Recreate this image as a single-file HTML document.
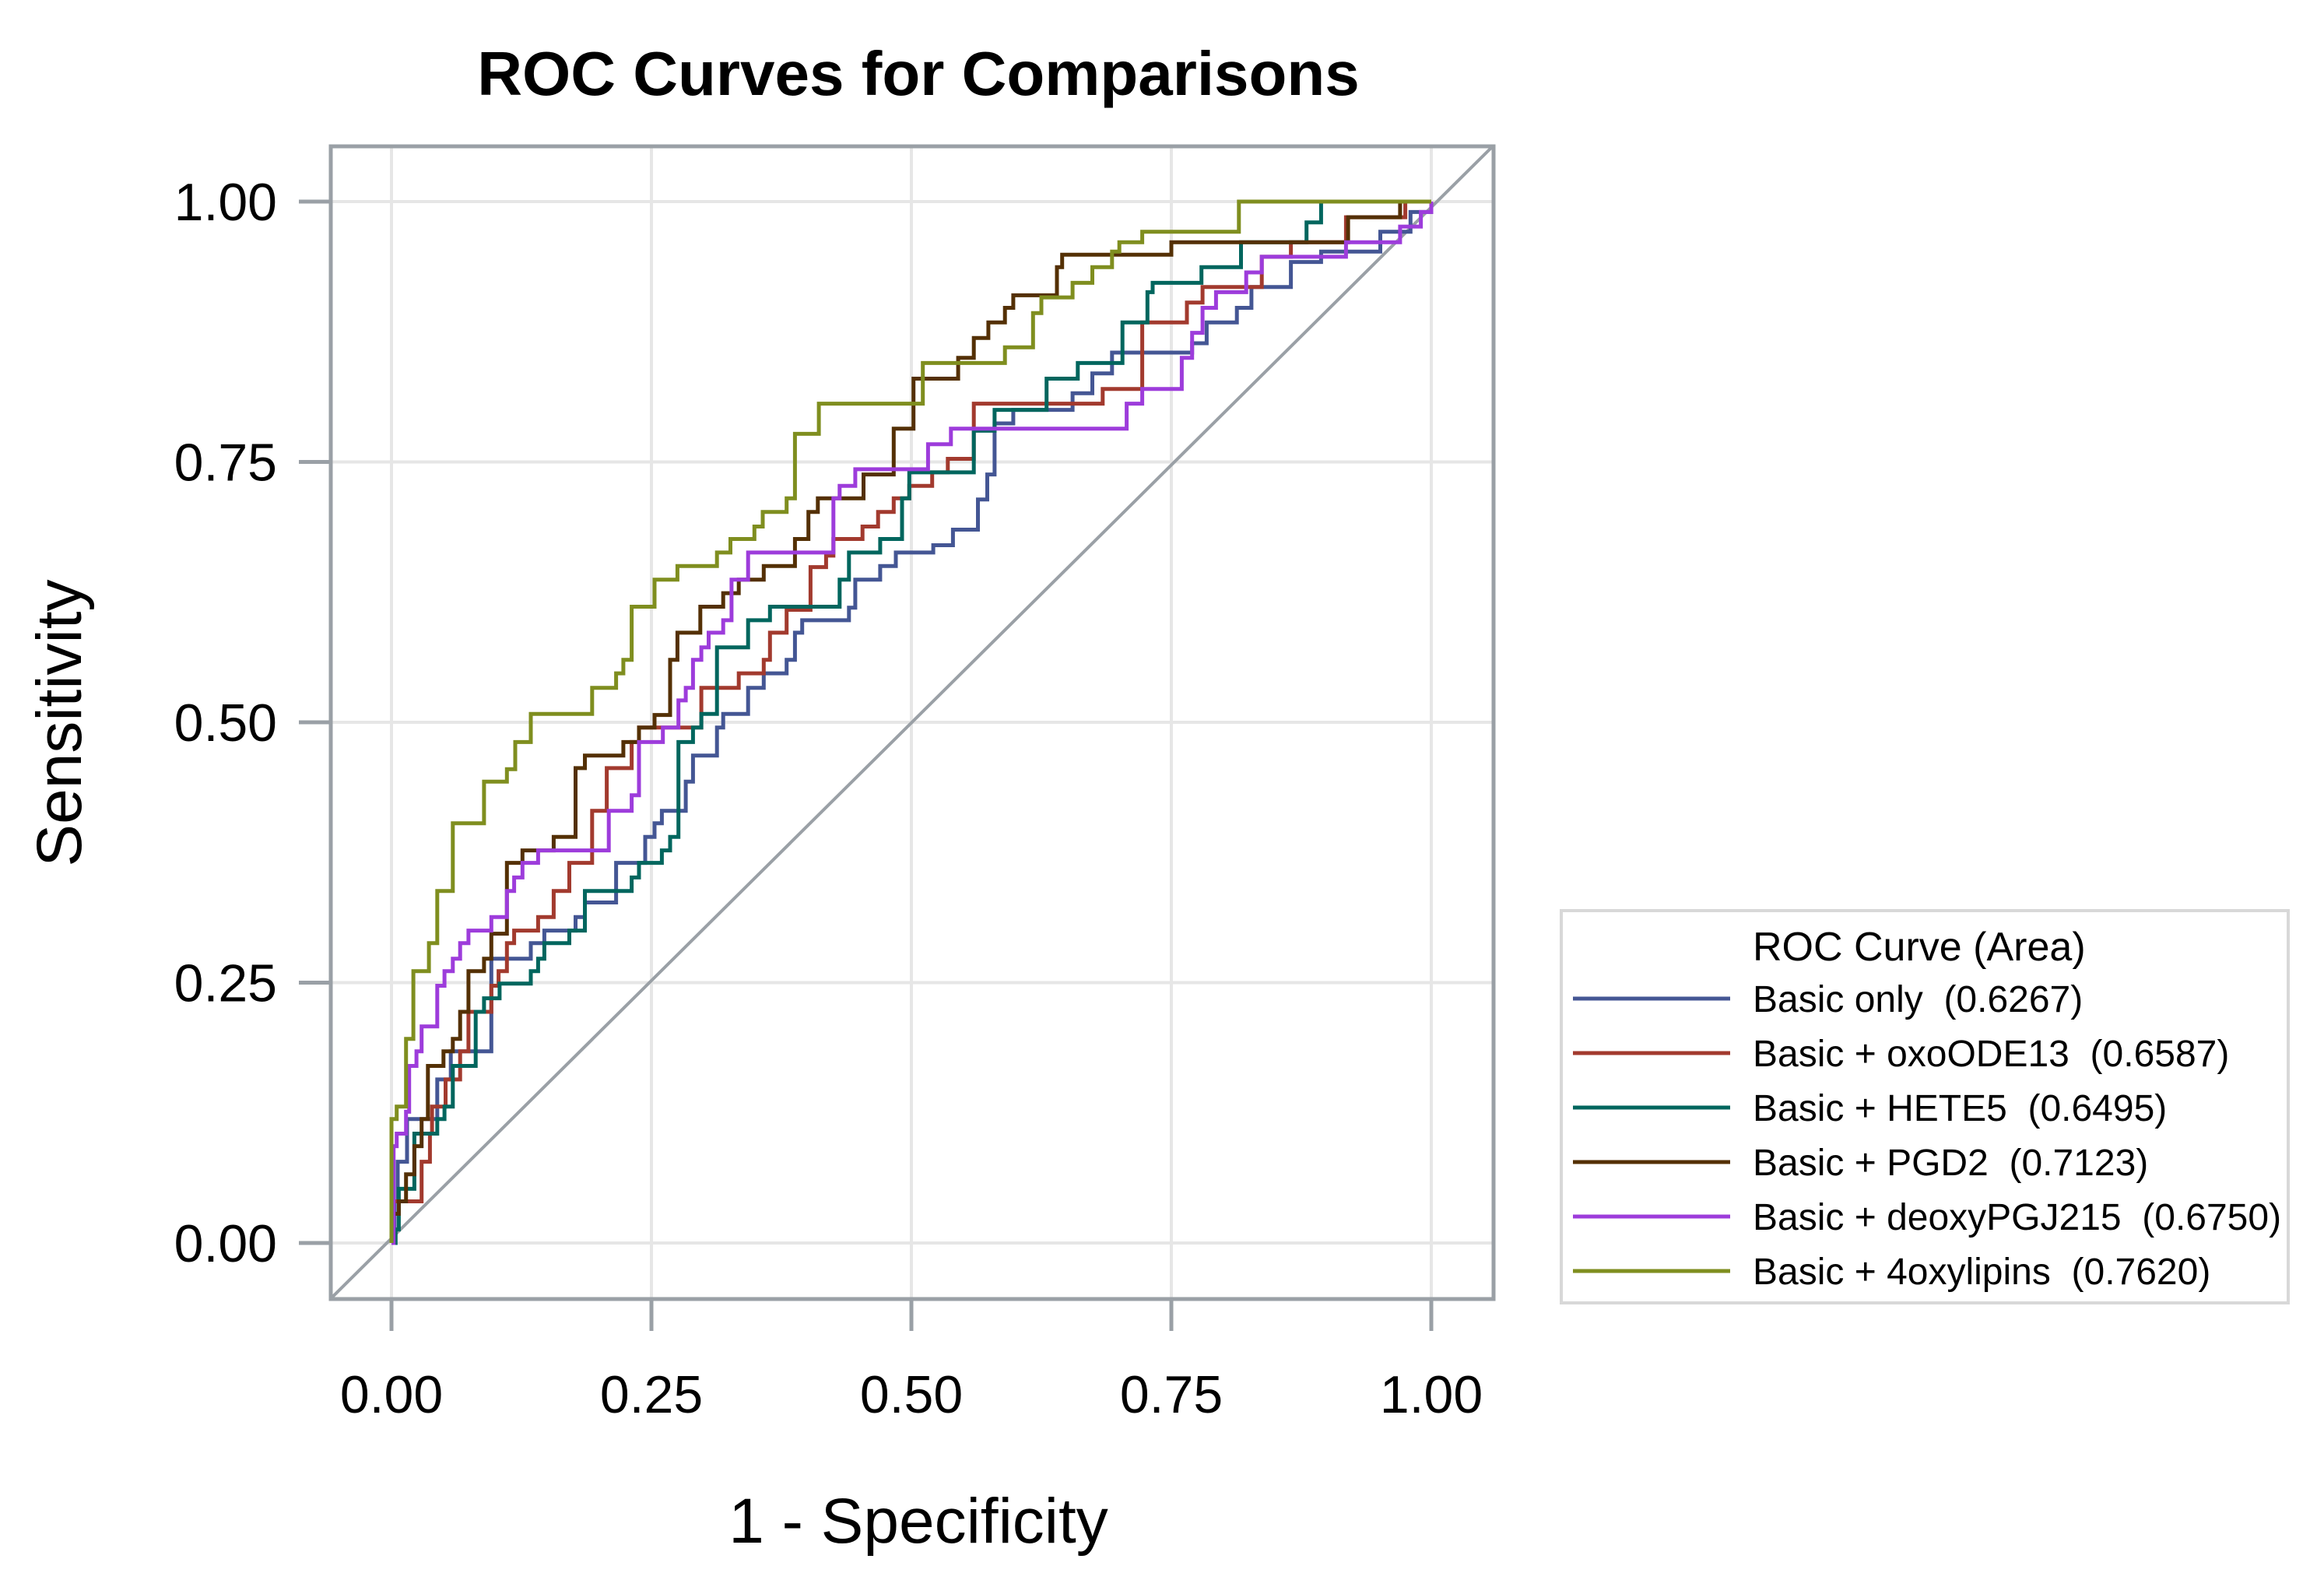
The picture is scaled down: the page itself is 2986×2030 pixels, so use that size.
<!DOCTYPE html>
<html><head><meta charset="utf-8"><style>
html,body{margin:0;padding:0;background:#fff;}
svg{display:block;font-family:"Liberation Sans",sans-serif;}
.pre{white-space:pre;}
</style></head><body>
<svg id="chart" width="2986" height="2030" viewBox="0 0 2986 2030" xmlns="http://www.w3.org/2000/svg">
<rect x="0" y="0" width="2986" height="2030" fill="#fff"/>
<text x="1180" y="122" font-size="80" font-weight="bold" text-anchor="middle" fill="#000">ROC Curves for Comparisons</text>
<g id="grid"></g>
<g id="curves"></g>
<rect x="425" y="188" width="1494" height="1481" fill="none" stroke="#9aa0a6" stroke-width="5"/>
<g id="axes"></g>
<text x="1180" y="1982" font-size="82" text-anchor="middle" fill="#000">1 - Specificity</text>
<text x="0" y="0" font-size="82" text-anchor="middle" fill="#000" transform="translate(104,929) rotate(-90)">Sensitivity</text>
<g id="legend">
<rect x="2006" y="1170" width="934" height="504" fill="#fff" stroke="#d8d8d8" stroke-width="4"/>
<text x="2252" y="1234" font-size="52" fill="#000">ROC Curve (Area)</text>
</g>
</svg>
<script>
const xTicks = [0, 0.25, 0.5, 0.75, 1];
const yTicks = [0, 0.25, 0.5, 0.75, 1];
const tickLabels = ["0.00", "0.25", "0.50", "0.75", "1.00"];
const seriesNames = ["Basic only  (0.6267)", "Basic + oxoODE13  (0.6587)", "Basic + HETE5  (0.6495)", "Basic + PGD2  (0.7123)", "Basic + deoxyPGJ215  (0.6750)", "Basic + 4oxylipins  (0.7620)"];
const seriesColors = ["#445694", "#A23A2E", "#01665E", "#543005", "#9D3CDB", "#7F8E1F"];
const basicOnly = [[0,0],[0.003,0.04],[0.006,0.078],[0.015,0.119],[0.044,0.157],[0.057,0.184],[0.096,0.273],[0.134,0.288],[0.147,0.3],[0.177,0.313],[0.186,0.327],[0.216,0.365],[0.244,0.39],[0.253,0.403],[0.26,0.415],[0.283,0.443],[0.29,0.468],[0.313,0.495],[0.319,0.508],[0.343,0.533],[0.358,0.547],[0.38,0.56],[0.388,0.586],[0.395,0.598],[0.44,0.61],[0.446,0.637],[0.47,0.65],[0.485,0.663],[0.521,0.67],[0.54,0.685],[0.564,0.714],[0.573,0.738],[0.58,0.787],[0.598,0.8],[0.655,0.816],[0.674,0.835],[0.693,0.855],[0.77,0.864],[0.784,0.884],[0.813,0.898],[0.827,0.918],[0.865,0.942],[0.894,0.952],[0.951,0.971],[0.98,0.99],[1,1]];
const oxoODE13 = [[0,0],[0,0.04],[0.029,0.078],[0.037,0.105],[0.039,0.131],[0.052,0.157],[0.066,0.184],[0.074,0.222],[0.096,0.247],[0.103,0.261],[0.111,0.288],[0.118,0.3],[0.141,0.313],[0.156,0.338],[0.171,0.365],[0.193,0.415],[0.207,0.456],[0.231,0.481],[0.238,0.495],[0.298,0.533],[0.334,0.547],[0.358,0.56],[0.364,0.586],[0.38,0.608],[0.403,0.649],[0.418,0.66],[0.425,0.676],[0.453,0.688],[0.468,0.702],[0.483,0.715],[0.498,0.727],[0.52,0.74],[0.535,0.753],[0.56,0.806],[0.684,0.82],[0.722,0.884],[0.765,0.903],[0.78,0.918],[0.837,0.947],[0.865,0.961],[0.918,0.985],[0.975,1],[1,1]];
const hete5 = [[0,0],[0.004,0.013],[0.007,0.052],[0.022,0.105],[0.044,0.119],[0.051,0.131],[0.059,0.17],[0.081,0.222],[0.089,0.235],[0.104,0.249],[0.134,0.261],[0.141,0.273],[0.147,0.288],[0.171,0.3],[0.186,0.338],[0.231,0.351],[0.238,0.365],[0.26,0.377],[0.268,0.39],[0.276,0.481],[0.29,0.495],[0.298,0.508],[0.313,0.572],[0.343,0.598],[0.364,0.611],[0.431,0.637],[0.44,0.663],[0.47,0.676],[0.491,0.715],[0.498,0.74],[0.56,0.78],[0.58,0.8],[0.63,0.83],[0.66,0.845],[0.703,0.884],[0.727,0.913],[0.732,0.922],[0.779,0.937],[0.817,0.961],[0.88,0.98],[0.894,1],[1,1]];
const pgd2 = [[0,0],[0,0.028],[0.007,0.04],[0.014,0.066],[0.022,0.093],[0.029,0.119],[0.035,0.17],[0.05,0.184],[0.059,0.196],[0.066,0.222],[0.074,0.261],[0.089,0.273],[0.096,0.297],[0.111,0.365],[0.126,0.377],[0.156,0.39],[0.177,0.456],[0.186,0.468],[0.223,0.481],[0.238,0.495],[0.253,0.507],[0.268,0.56],[0.275,0.586],[0.297,0.611],[0.319,0.624],[0.334,0.637],[0.358,0.65],[0.388,0.676],[0.401,0.702],[0.41,0.715],[0.454,0.738],[0.483,0.782],[0.502,0.83],[0.545,0.85],[0.56,0.869],[0.574,0.884],[0.59,0.898],[0.598,0.91],[0.64,0.937],[0.645,0.949],[0.75,0.961],[0.92,0.985],[0.97,1],[1,1]];
const deoxyPGJ215 = [[0,0],[0.002,0.093],[0.005,0.105],[0.014,0.126],[0.017,0.17],[0.024,0.184],[0.029,0.208],[0.044,0.247],[0.051,0.261],[0.059,0.273],[0.066,0.288],[0.074,0.3],[0.096,0.313],[0.111,0.338],[0.118,0.351],[0.126,0.365],[0.141,0.377],[0.209,0.415],[0.231,0.43],[0.238,0.481],[0.261,0.495],[0.276,0.521],[0.283,0.533],[0.29,0.56],[0.298,0.572],[0.305,0.586],[0.319,0.598],[0.327,0.637],[0.343,0.663],[0.425,0.715],[0.431,0.727],[0.446,0.743],[0.516,0.767],[0.538,0.782],[0.707,0.806],[0.722,0.82],[0.76,0.85],[0.77,0.874],[0.78,0.898],[0.793,0.913],[0.822,0.932],[0.837,0.947],[0.918,0.961],[0.97,0.976],[0.99,0.99],[1,1]];
const oxylipins4 = [[0,0],[0,0.119],[0.005,0.131],[0.014,0.196],[0.021,0.261],[0.036,0.288],[0.044,0.338],[0.059,0.403],[0.089,0.443],[0.111,0.455],[0.119,0.481],[0.134,0.508],[0.193,0.533],[0.216,0.547],[0.223,0.56],[0.231,0.611],[0.253,0.637],[0.275,0.65],[0.313,0.663],[0.326,0.676],[0.349,0.688],[0.357,0.702],[0.38,0.715],[0.388,0.777],[0.411,0.806],[0.511,0.845],[0.59,0.86],[0.617,0.893],[0.625,0.908],[0.655,0.922],[0.674,0.937],[0.693,0.952],[0.7,0.961],[0.722,0.971],[0.815,1],[1,1]];
const allSeries = [basicOnly, oxoODE13, hete5, pgd2, deoxyPGJ215, oxylipins4];
const seriesKeys = ["basic-only", "oxoode13", "hete5", "pgd2", "deoxypgj215", "4oxylipins"];

const NS = "http://www.w3.org/2000/svg";
function xs(v){ return 503 + v * 1336; }
function ys(v){ return 1597 - v * 1338; }
function mk(tag, attrs, parent){ const e = document.createElementNS(NS, tag); for (const k in attrs) e.setAttribute(k, attrs[k]); parent.appendChild(e); return e; }

const grid = document.getElementById('grid');
xTicks.forEach(function(t){
  const l = mk('line', {x1: xs(t), x2: xs(t), y1: 190, y2: 1667, stroke: '#e6e6e6', 'stroke-width': 4}, grid);
  
  
});
yTicks.forEach(function(t){
  const l = mk('line', {x1: 427, x2: 1917, y1: ys(t), y2: ys(t), stroke: '#e6e6e6', 'stroke-width': 4}, grid);
  
  
});

const curves = document.getElementById('curves');
const diag = mk('line', {x1: xs(-0.058), y1: ys(-0.053), x2: xs(1.0595), y2: ys(1.0535), stroke: '#9aa0a6', 'stroke-width': 4}, curves);


allSeries.forEach(function(pts, i){
  let d = 'M' + xs(pts[0][0]).toFixed(1) + ' ' + ys(pts[0][1]).toFixed(1);
  for (let k = 1; k < pts.length; k++) {
    d += ' H' + xs(pts[k][0]).toFixed(1) + ' V' + ys(pts[k][1]).toFixed(1);
  }
  const p = mk('path', {d: d, fill: 'none', stroke: seriesColors[i], 'stroke-width': 5}, curves);
  
  
});

const axes = document.getElementById('axes');
xTicks.forEach(function(t, i){
  const l = mk('line', {x1: xs(t), x2: xs(t), y1: 1669, y2: 1710, stroke: '#9aa0a6', 'stroke-width': 5}, axes);
  
  
  const tx = mk('text', {x: xs(t), y: 1815, 'font-size': 68, 'text-anchor': 'middle', fill: '#000'}, axes);
  tx.textContent = tickLabels[i];
  
  
});
yTicks.forEach(function(t, i){
  const l = mk('line', {x1: 384, x2: 425, y1: ys(t), y2: ys(t), stroke: '#9aa0a6', 'stroke-width': 5}, axes);
  
  
  const tx = mk('text', {x: 356, y: ys(t) + 24, 'font-size': 68, 'text-anchor': 'end', fill: '#000'}, axes);
  tx.textContent = tickLabels[i];
  
  
});

const legend = document.getElementById('legend');
seriesNames.forEach(function(name, i){
  const y = 1283 + i * 70;
  const l = mk('line', {x1: 2021, x2: 2223, y1: y, y2: y, stroke: seriesColors[i], 'stroke-width': 5}, legend);
  
  
  const tx = mk('text', {x: 2252, y: y + 17, 'font-size': 48, fill: '#000', 'class': 'pre'}, legend);
  tx.textContent = name;
  
  
});
</script>
</body></html>
